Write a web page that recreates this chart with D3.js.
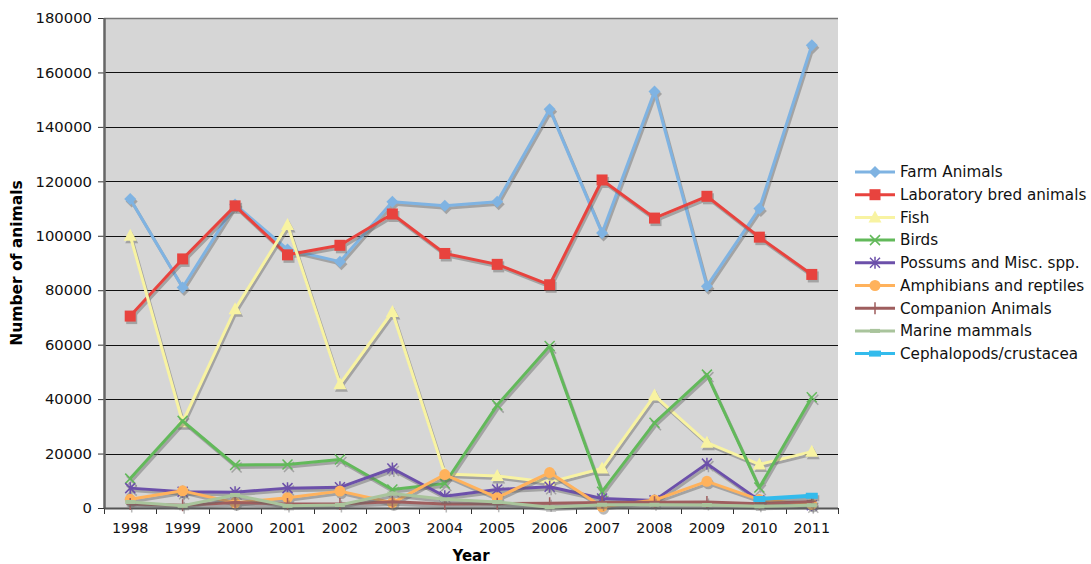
<!DOCTYPE html>
<html>
<head>
<meta charset="utf-8">
<script src="https://cdn.jsdelivr.net/npm/d3@7/dist/d3.min.js"></script>
<style>
  body { margin: 0; background: #fff; }
  text { font-family: "DejaVu Sans", Verdana, sans-serif; }
</style>
</head>
<body>
<script>
const width = 1091;
const height = 564;

const margin = {
  top: 18,
  left: 104,
  bottom: 56,
  right: 253
};

const years = [1998, 1999, 2000, 2001, 2002, 2003, 2004, 2005, 2006, 2007, 2008, 2009, 2010, 2011];
const yTicks = [0, 20000, 40000, 60000, 80000, 100000, 120000, 140000, 160000, 180000];

// series values
const farmAnimals = [113500, 81000, 111500, 95000, 90500, 112500, 111000, 112500, 146500, 101000, 153000, 81500, 110000, 170000];
const labBred = [70500, 91500, 111000, 93000, 96500, 108000, 93500, 89500, 82000, 120500, 106500, 114500, 99500, 85800];
const fish = [100000, 31500, 73000, 104000, 45500, 72000, 12500, 11800, 9500, 14500, 41300, 24000, 16000, 20700];
const birds = [10800, 32000, 15800, 16000, 17800, 6800, 9000, 37800, 59500, 6000, 31300, 49000, 7500, 40700];
const possums = [7300, 6000, 5800, 7300, 7600, 14500, 4300, 6800, 7800, 3500, 2800, 16300, 2800, 1000];
const amphibians = [3200, 6300, 1900, 3800, 6200, 1900, 12300, 3800, 13000, 500, 2900, 9800, 3100, 1300];
const companion = [1500, 1000, 2000, 1500, 1500, 2300, 1500, 1600, 1700, 2000, 2100, 2200, 1600, 2400];
const marine = [2200, 800, 4800, 800, 1100, 5300, 3200, 2200, 300, 1200, 1200, 1100, 600, 1000];
const cephalopods = [null, null, null, null, null, null, null, null, null, null, null, null, 3300, 4500];

const series = [
  { name: "Farm Animals", values: farmAnimals, color: "#7fb3e2", marker: "diamond" },
  { name: "Laboratory bred animals", values: labBred, color: "#e8433e", marker: "square" },
  { name: "Fish", values: fish, color: "#f8f3a2", marker: "triangle" },
  { name: "Birds", values: birds, color: "#62b95a", marker: "x" },
  { name: "Possums and Misc. spp.", values: possums, color: "#6c50aa", marker: "star" },
  { name: "Amphibians and reptiles", values: amphibians, color: "#ffb25c", marker: "circle" },
  { name: "Companion Animals", values: companion, color: "#9e5e5e", marker: "plus" },
  { name: "Marine mammals", values: marine, color: "#a9c49c", marker: "dash" },
  { name: "Cephalopods/crustacea", values: cephalopods, color: "#33bbec", marker: "bar" }
];

const mWidth = width - margin.left - margin.right;
const mHeight = height - margin.top - margin.bottom;

const svg = d3.select("body").append("svg")
  .attr("width", width)
  .attr("height", height)
  .attr("viewBox", `0 0 ${width} ${height}`);

const g = svg.append("g")
  .attr("transform", `translate(${margin.left}, ${margin.top})`);

const x = d3.scaleBand()
  .domain(years)
  .range([0, mWidth]);

const y = d3.scaleLinear()
  .domain([0, 180000])
  .range([mHeight, 0]);

const cx = (i) => x(years[i]) + x.bandwidth() / 2;

// plot background
g.append("rect")
  .attr("width", mWidth)
  .attr("height", mHeight)
  .style("fill", "#d6d6d6");

// gridlines
g.append("g")
  .selectAll("line")
  .data(yTicks.slice(1))
  .enter()
  .append("line")
  .attr("x1", 0)
  .attr("x2", mWidth)
  .attr("y1", (d) => Math.round(y(d)) + 0.5)
  .attr("y2", (d) => Math.round(y(d)) + 0.5)
  .style("stroke", (d) => d === 180000 ? "#777" : "#111")
  .style("stroke-width", (d) => d === 180000 ? 1.5 : 1);

// y axis
const yAxis = g.append("g")
  .call(d3.axisLeft(y).tickValues(yTicks).tickSize(6).tickPadding(6).tickFormat(d3.format("d")));
yAxis.select(".domain").remove();
yAxis.selectAll("line").style("stroke", "#333");
yAxis.selectAll("text").style("font-size", "14.8px").style("fill", "#111");
g.append("line")
  .attr("x1", 0.5).attr("x2", 0.5)
  .attr("y1", 0).attr("y2", mHeight)
  .style("stroke", "#666")
  .style("stroke-width", 2.5);

// x axis
const xAxis = g.append("g")
  .attr("transform", `translate(0, ${mHeight})`)
  .call(d3.axisBottom(x).tickSize(0).tickPadding(15));
xAxis.select(".domain").remove();
xAxis.selectAll("text").style("font-size", "14.3px").style("fill", "#111");
g.append("g")
  .selectAll("line")
  .data(d3.range(years.length + 1))
  .enter()
  .append("line")
  .attr("x1", (d) => Math.round(d * x.step()) + 0.5)
  .attr("x2", (d) => Math.round(d * x.step()) + 0.5)
  .attr("y1", mHeight)
  .attr("y2", mHeight + 6)
  .style("stroke", "#333");
g.append("line")
  .attr("x1", 0).attr("x2", mWidth)
  .attr("y1", mHeight + 0.5).attr("y2", mHeight + 0.5)
  .style("stroke", "#555")
  .style("stroke-width", 2);

// axis titles
svg.append("text")
  .attr("transform", `translate(22, ${margin.top + mHeight / 2}) rotate(-90)`)
  .attr("text-anchor", "middle")
  .style("font-size", "15.5px")
  .style("font-weight", "bold")
  .text("Number of animals");

svg.append("text")
  .attr("x", margin.left + mWidth / 2)
  .attr("y", 561)
  .attr("text-anchor", "middle")
  .style("font-size", "15px")
  .style("font-weight", "bold")
  .text("Year");

// marker drawing
function drawMarker(sel, type, color) {
  if (type === "diamond") {
    sel.append("path").attr("d", "M0,-6L6,0L0,6L-6,0Z").style("fill", color);
  } else if (type === "square") {
    sel.append("rect").attr("x", -5.5).attr("y", -5.5).attr("width", 11).attr("height", 11).style("fill", color);
  } else if (type === "triangle") {
    sel.append("path").attr("d", "M0,-7L6.5,5L-6.5,5Z").style("fill", color);
  } else if (type === "circle") {
    sel.append("circle").attr("r", 5.5).style("fill", color);
  } else if (type === "x") {
    sel.append("path").attr("d", "M-5,-5L5,5M-5,5L5,-5").style("stroke", color).style("stroke-width", 1.5);
  } else if (type === "star") {
    sel.append("path").attr("d", "M-5,-5L5,5M-5,5L5,-5M0,-6L0,6").style("stroke", color).style("stroke-width", 1.5);
  } else if (type === "plus") {
    sel.append("path").attr("d", "M0,-6L0,6M-4,0L4,0").style("stroke", color).style("stroke-width", 1.5);
  } else if (type === "dash") {
    sel.append("rect").attr("x", -5).attr("y", -2).attr("width", 10).attr("height", 4).style("fill", color);
  } else if (type === "bar") {
    sel.append("rect").attr("x", -6).attr("y", -3).attr("width", 12).attr("height", 6).style("fill", color);
  }
}

const line = d3.line()
  .defined((d) => d !== null)
  .x((d, i) => cx(i))
  .y((d) => y(d));

const plot = g.append("g");

series.forEach((s) => {
  const pts = s.values.map((v, i) => ({ v, i })).filter((d) => d.v !== null);

  // drop shadow
  const shadow = plot.append("g")
    .attr("transform", "translate(1.5, 2.5)")
    .style("opacity", 0.45);
  shadow.append("path")
    .attr("d", line(s.values))
    .style("fill", "none")
    .style("stroke", "#666")
    .style("stroke-width", 3);
  pts.forEach((d) => {
    const m = shadow.append("g").attr("transform", `translate(${cx(d.i)}, ${y(d.v)})`);
    drawMarker(m, s.marker, "#666");
  });

  plot.append("path")
    .attr("d", line(s.values))
    .style("fill", "none")
    .style("stroke", s.color)
    .style("stroke-width", s.marker === "bar" ? 4 : 3)
    .style("stroke-linejoin", "round");

  pts.forEach((d) => {
    const m = plot.append("g").attr("transform", `translate(${cx(d.i)}, ${y(d.v)})`);
    drawMarker(m, s.marker, s.color);
  });
});

// legend
const legend = svg.append("g")
  .attr("transform", "translate(855, 172)");

series.forEach((s, i) => {
  const row = legend.append("g").attr("transform", `translate(0, ${i * 22.7})`);
  row.append("line")
    .attr("x1", 0).attr("x2", 40)
    .style("stroke", s.color)
    .style("stroke-width", 3);
  const m = row.append("g").attr("transform", "translate(20, 0)");
  drawMarker(m, s.marker, s.color);
  row.append("text")
    .attr("x", 45)
    .attr("dy", "0.35em")
    .style("font-size", "15.2px")
    .style("fill", "#111")
    .text(s.name);
});
</script>
</body>
</html>
